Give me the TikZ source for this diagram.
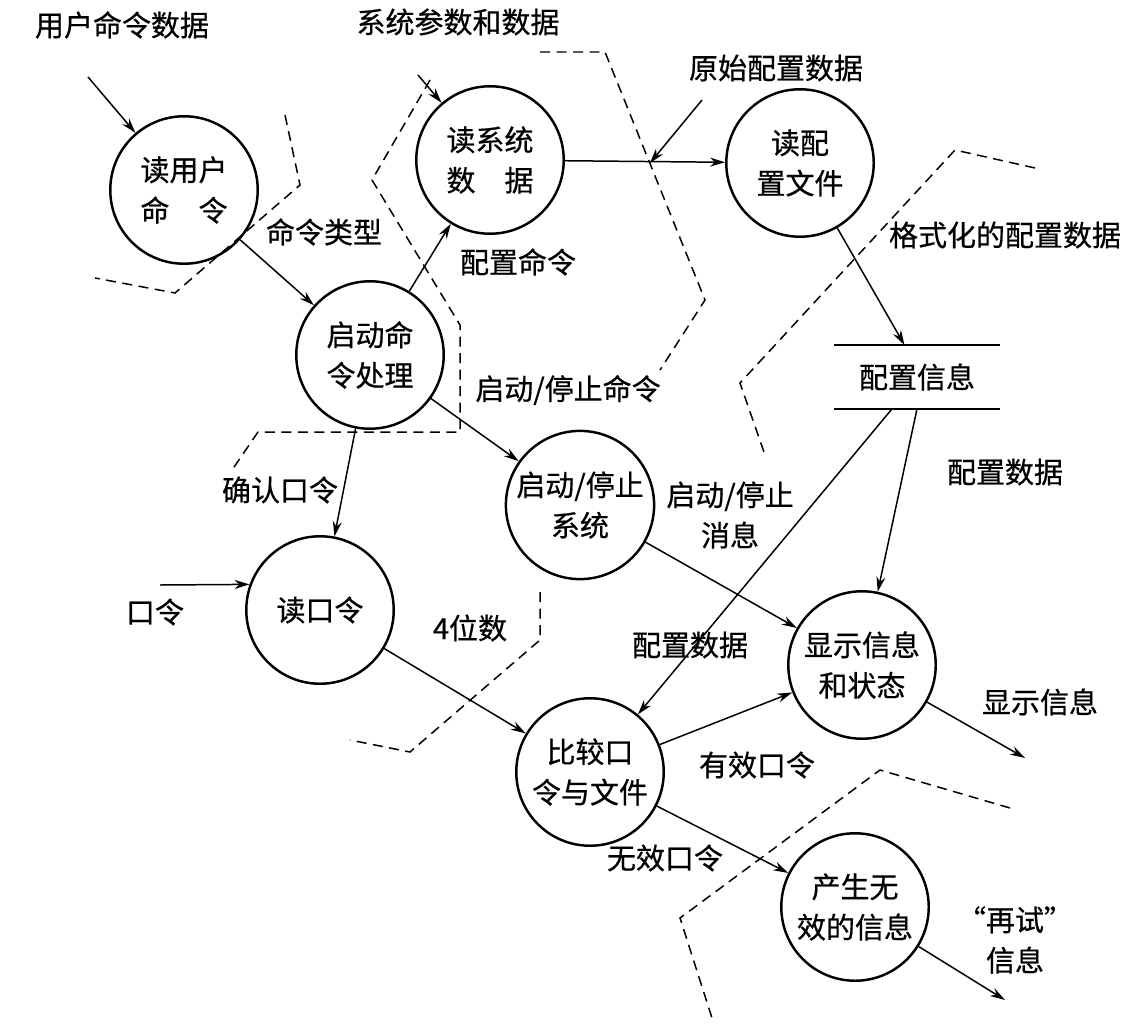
\documentclass[tikz,border=0pt]{standalone}
\usepackage{fontspec}
\setmainfont{Noto Sans CJK SC}[FakeBold=0.6]
\usetikzlibrary{arrows.meta,shapes,positioning}

\begin{document}
\begin{tikzpicture}[
  >={Stealth[length=3mm,width=1.8mm]},
  x=0.02cm, y=-0.02cm,
  every node/.style={inner sep=1pt, font=\fontsize{16.5}{23}\selectfont},
  proc/.style={draw, circle, line width=1.4pt, minimum size=2.95cm, align=center},
  lbl/.style={align=center},
  store/.style={minimum width=3.3cm, minimum height=1.26cm},
  flow/.style={->, line width=0.85pt},
  bound/.style={line width=0.85pt, dash pattern=on 0.2cm off 0.13cm},
  ]
  \useasboundingbox (0,0) rectangle (1145,1024);

  % processes
  \node[proc] (rdcmd) at (184,190) {读用户\\命\quad 令};
  \node[proc] (rdsys) at (490,160) {读系统\\数\quad 据};
  \node[proc] (rdcfg) at (800,163) {读配\\置文件};
  \node[proc] (startcmd) at (370,355) {启动命\\令处理};
  \node[proc] (startsys) at (580,505) {启动/停止\\系统};
  \node[proc] (rdpwd) at (320,610) {读口令};
  \node[proc] (cmppwd) at (590,772) {比较口\\令与文件};
  \node[proc] (disp) at (862,665) {显示信息\\和状态};
  \node[proc] (invalid) at (855,907) {产生无\\效的信息};
  \node[store] (store) at (917,377) {配置信息};
  \draw[line width=1.4pt] (store.north west) -- (store.north east)
                          (store.south west) -- (store.south east);

  % labels
  \node[lbl] (lcmdin) at (122,25) {用户命令数据};
  \node[lbl] (lsysin) at (458,22) {系统参数和数据};
  \node[lbl] (lraw) at (776,68) {原始配置数据};
  \node[lbl] (lfmt) at (1005,235) {格式化的配置数据};
  \node[lbl] (ltype) at (324,232) {命令类型};
  \node[lbl] (lcfgcmd) at (518,262) {配置命令};
  \node[lbl] (lstartcmd) at (568,390) {启动/停止命令};
  \node[lbl] (lconfirm) at (280,490) {确认口令};
  \node[lbl] (lmsg) at (730,515) {启动/停止\\消息};
  \node[lbl] (lcfgdata) at (1005,472) {配置数据};
  \node[lbl] (lpwd) at (155,612) {口令};
  \node[lbl] (ldigits) at (470,628) {4位数};
  \node[lbl] (lcfgdata2) at (690,645) {配置数据};
  \node[lbl] (lshow) at (1040,702) {显示信息};
  \node[lbl] (lvalid) at (757,765) {有效口令};
  \node[lbl] (linvalid) at (665,858) {无效口令};
  \node[lbl] (lretry) at (1015,940) {“再试”\\信息};

  % free ends
  \coordinate (cmdin) at (88,77);
  \coordinate (sysin) at (418,75);
  \coordinate (rawin) at (702,100);
  \coordinate (rawjoin) at (650,163);
  \coordinate (pwdin) at (160,585);
  \coordinate (showout) at (1025,758);
  \coordinate (retryout) at (1005,1000);

  % flows
  \draw[flow] (cmdin) -- (rdcmd);
  \draw[flow] (sysin) -- (rdsys);
  \draw[flow] (rdsys) -- (rdcfg);
  \draw[flow] (rawin) -- (rawjoin);
  \draw[flow] (rdcmd) -- (startcmd);
  \draw[flow] (startcmd) -- (rdsys);
  \draw[flow] (startcmd) -- (startsys);
  \draw[flow] (startcmd) -- (rdpwd);
  \draw[flow] (pwdin) -- (rdpwd.160);
  \draw[flow] (rdpwd) -- (cmppwd);
  \draw[flow] (rdcfg) -- ([xshift=-0.25cm]store.north);
  \draw[flow] (store.south) -- (disp);
  \draw[flow] ([xshift=-0.5cm]store.south) -- (cmppwd);
  \draw[flow] (startsys) -- (disp);
  \draw[flow] (cmppwd) -- (disp);
  \draw[flow] (cmppwd) -- (invalid);
  \draw[flow] (disp) -- (showout);
  \draw[flow] (invalid) -- (retryout);

  % boundaries
  \draw[bound] (285,115) -- (300,185) -- (175,293) -- (95,278);
  \draw[bound] (430,80) -- (372,180) -- (460,325) -- (460,432) -- (258,432) -- (232,470);
  \draw[bound] (540,52) -- (605,52) -- (705,300) -- (660,370);
  \draw[bound] (1035,168) -- (955,150) -- (740,383) -- (765,455);
  \draw[bound] (540,592) -- (540,640) -- (410,752) -- (350,740);
  \draw[bound] (1010,808) -- (880,770) -- (680,918) -- (712,1018);
\end{tikzpicture}
\end{document}
